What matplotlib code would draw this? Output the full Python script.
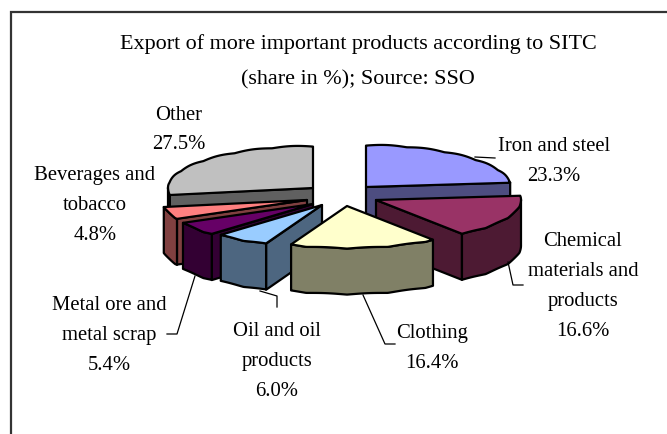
import numpy as np
import matplotlib
matplotlib.use("Agg")
import matplotlib.pyplot as plt
from matplotlib.patches import Polygon

# --- data ---
categories = ["Iron and steel", "Chemical\nmaterials and\nproducts", "Clothing",
              "Oil and oil\nproducts", "Metal ore and\nmetal scrap",
              "Beverages and\ntobacco", "Other"]
shares = [23.3, 16.6, 16.4, 6.0, 5.4, 4.8, 27.5]
top_colors = ["#9999FF", "#993366", "#FFFFCC", "#99CCFF", "#660066", "#FF8080", "#C0C0C0"]
side_colors = ["#4D4D80", "#4D1A33", "#808066", "#4D6680", "#330033", "#804040", "#606060"]
title_lines = ["Export of more important products according to SITC",
               "(share in %); Source: SSO"]

# --- layout (pixels) ---
centers = [(366, 188), (376, 201), (347, 207), (322, 206), (313, 205), (307, 201), (313, 189)]
A, B, H = 145, 42, 46
draw_order = [6, 0, 5, 4, 3, 1, 2]
label_pos = [(554, 147), (583, 242), (432, 334), (277, 332), (109, 306), (95, 176), (179, 115)]
leaders = [[(475, 158), (495, 159)],
           [(508, 263), (513, 286), (523, 286)],
           [(363, 296), (385, 345), (395, 345)],
           [(260, 292), (277, 297), (277, 308)],
           [(195, 277), (177, 335), (167, 335)]]
FONT = "Liberation Serif"
FS = 14.9
LINE = 30

fig = plt.figure(figsize=(6.67, 4.35), dpi=100)
ax = fig.add_axes([0, 0, 1, 1])
ax.set_xlim(0, 667)
ax.set_ylim(435, 0)
ax.axis("off")

ax.plot([11, 11, 667], [435, 13, 13], color="#333333", lw=1.6, solid_joinstyle="miter")


def arc(cx, cy, t0, t1, dy=0.0):
    th = np.radians(np.linspace(t0, t1, max(int((t1 - t0) * 2), 4)))
    bump = 1.0 * (np.abs(np.sin(th * 11)) - 0.6)
    return np.column_stack([cx + A * np.sin(th), cy - B * np.cos(th) + dy - bump])


edges = np.concatenate([[0], np.cumsum(shares)]) / sum(shares) * 360
EC = dict(edgecolor="black", linewidth=1.6, joinstyle="round")

for i in draw_order:
    t0, t1 = edges[i], edges[i + 1]
    cx, cy = centers[i]
    # radial walls that face the viewer
    for t, vis in ((t1, np.sin(np.radians(t1)) > 0.01), (t0, np.sin(np.radians(t0)) < -0.01)):
        if vis:
            px = cx + A * np.sin(np.radians(t))
            py = cy - B * np.cos(np.radians(t))
            ax.add_patch(Polygon([(cx, cy), (px, py), (px, py + H), (cx, cy + H)],
                                 facecolor=side_colors[i], **EC))
    # outer wall
    lo, hi = max(t0, 90), min(t1, 270)
    if hi > lo:
        up = arc(cx, cy, lo, hi)
        dn = arc(cx, cy, lo, hi, H)
        ax.add_patch(Polygon(np.vstack([up, dn[::-1]]), facecolor=side_colors[i], **EC))
    # top face
    ax.add_patch(Polygon(np.vstack([[(cx, cy)], arc(cx, cy, t0, t1)]),
                         facecolor=top_colors[i], **EC))

for pts in leaders:
    xs, ys = zip(*pts)
    ax.plot(xs, ys, color="black", lw=0.9)

for y, t in zip((44, 80), title_lines):
    ax.text(358, y, t, ha="center", va="center", family=FONT, fontsize=15.9, color="black")

for name, val, (x, y) in zip(categories, shares, label_pos):
    lines = name.split("\n") + [f"{val:.1f}%"]
    for k, ln in enumerate(lines):
        ax.text(x, y + k * LINE, ln, ha="center", va="center", family=FONT, fontsize=FS, color="black")

fig.savefig("out.png", dpi=100)
